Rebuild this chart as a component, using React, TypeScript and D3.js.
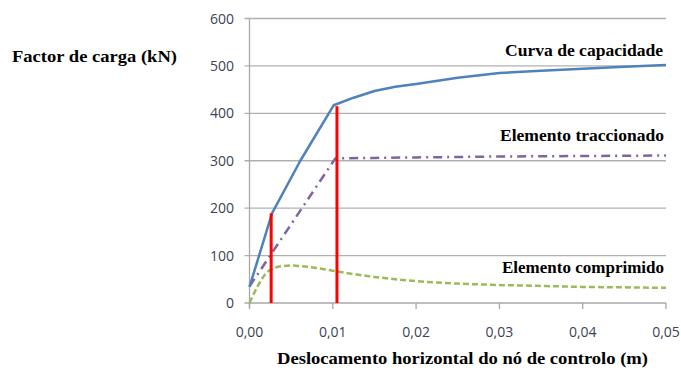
import React from "react";
import * as d3 from "d3";

// capacity curve
const capX = [0, 0.0027, 0.0061, 0.0101, 0.0125, 0.015, 0.0175, 0.02, 0.025, 0.03, 0.035, 0.04, 0.045, 0.05];
const capY = [34, 189, 300, 417, 433, 447, 456, 462, 475, 485, 490, 494, 498, 502];

// tensioned element
const tracX = [0, 0.0103, 0.015, 0.02, 0.03, 0.04, 0.05];
const tracY = [35, 305, 306, 307, 309, 310, 311];

// compressed element
const compX = [0, 0.001, 0.002, 0.003, 0.004, 0.005, 0.006, 0.008, 0.01, 0.0125, 0.015, 0.02, 0.025, 0.03, 0.035, 0.04, 0.045, 0.05];
const compY = [0, 36, 63, 74, 78, 79, 78, 74, 68, 61, 55, 46, 41, 38, 36, 34, 33, 32];

// red markers (x, top value)
const markX = [0.0026, 0.0105];
const markY = [189, 415];

const xTicks = [0, 0.01, 0.02, 0.03, 0.04, 0.05];
const yTicks = [0, 100, 200, 300, 400, 500, 600];

const serif = "'Liberation Serif', 'Times New Roman', serif";
const sans = "'Open Sans', 'Liberation Sans', sans-serif";

const App = () => {
    const width = 681;
    const height = 371;
    const x = d3.scaleLinear().domain([0, 0.05]).range([249.5, 666]);
    const y = d3.scaleLinear().domain([0, 600]).range([303, 18.5]);

    const makePath = (xs: number[], ys: number[], curve: d3.CurveFactory) =>
        d3.line<number>()
            .x(d => x(xs[d]))
            .y(d => y(ys[d]))
            .curve(curve)(xs.map((_, i) => i)) || "";

    const fmt = (v: number) => d3.format(".2f")(v).replace(".", ",");

    return (
        <svg width={width} height={height} style={{ position: "absolute", left: 0, top: 0, background: "#fff" }}>
            {/* grid */}
            {yTicks.filter(t => t > 0).map(t => (
                <line key={t} x1={x(0) - 5} x2={x(0.05)} y1={y(t)} y2={y(t)} stroke="#b0b0b0" strokeWidth={1.3} />
            ))}
            {/* axes */}
            <line x1={x(0)} x2={x(0)} y1={y(600)} y2={y(0) + 5} stroke="#a8a8a8" strokeWidth={1.3} />
            <line x1={x(0) - 5} x2={x(0.05)} y1={y(0)} y2={y(0)} stroke="#a8a8a8" strokeWidth={1.3} />
            {xTicks.map(t => (
                <line key={t} x1={x(t)} x2={x(t)} y1={y(0)} y2={y(0) + 6} stroke="#a8a8a8" strokeWidth={1.3} />
            ))}
            {yTicks.map(t => (
                <text key={t} x={234} y={y(t) + 5} textAnchor="end" fontFamily={sans} fontSize={14} fill="#3a4354">{t}</text>
            ))}
            {xTicks.map(t => (
                <text key={t} x={x(t)} y={337} textAnchor="middle" fontFamily={sans} fontSize={14} fill="#3a4354">{fmt(t)}</text>
            ))}

            {/* series */}
            <path d={makePath(compX, compY, d3.curveMonotoneX)} fill="none" stroke="#9bbb59" strokeWidth={2.5} strokeDasharray="6 3" />
            <path d={makePath(tracX, tracY, d3.curveLinear)} fill="none" stroke="#8064a2" strokeWidth={2.5} strokeDasharray="9 5 2 5" />
            <path d={makePath(capX, capY, d3.curveLinear)} fill="none" stroke="#4f81bd" strokeWidth={2.5} strokeLinejoin="round" />

            {markX.map((m, i) => (
                <line key={i} x1={x(m)} x2={x(m)} y1={y(0)} y2={y(markY[i])} stroke="#ff0000" strokeWidth={3} />
            ))}

            {/* labels */}
            <text x={663} y={56} textAnchor="end" fontFamily={serif} fontWeight="bold" fontSize={16} textLength={158} lengthAdjust="spacingAndGlyphs">Curva de capacidade</text>
            <text x={664} y={141} textAnchor="end" fontFamily={serif} fontWeight="bold" fontSize={16} textLength={164} lengthAdjust="spacingAndGlyphs">Elemento traccionado</text>
            <text x={664} y={273} textAnchor="end" fontFamily={serif} fontWeight="bold" fontSize={16} textLength={162} lengthAdjust="spacingAndGlyphs">Elemento comprimido</text>
            <text x={12} y={62} fontFamily={serif} fontWeight="bold" fontSize={16} textLength={165} lengthAdjust="spacingAndGlyphs">Factor de carga (kN)</text>
            <text x={277} y={364} fontFamily={serif} fontWeight="bold" fontSize={16} textLength={371} lengthAdjust="spacingAndGlyphs">Deslocamento horizontal do nó de controlo (m)</text>
        </svg>
    );
};

export default App;
